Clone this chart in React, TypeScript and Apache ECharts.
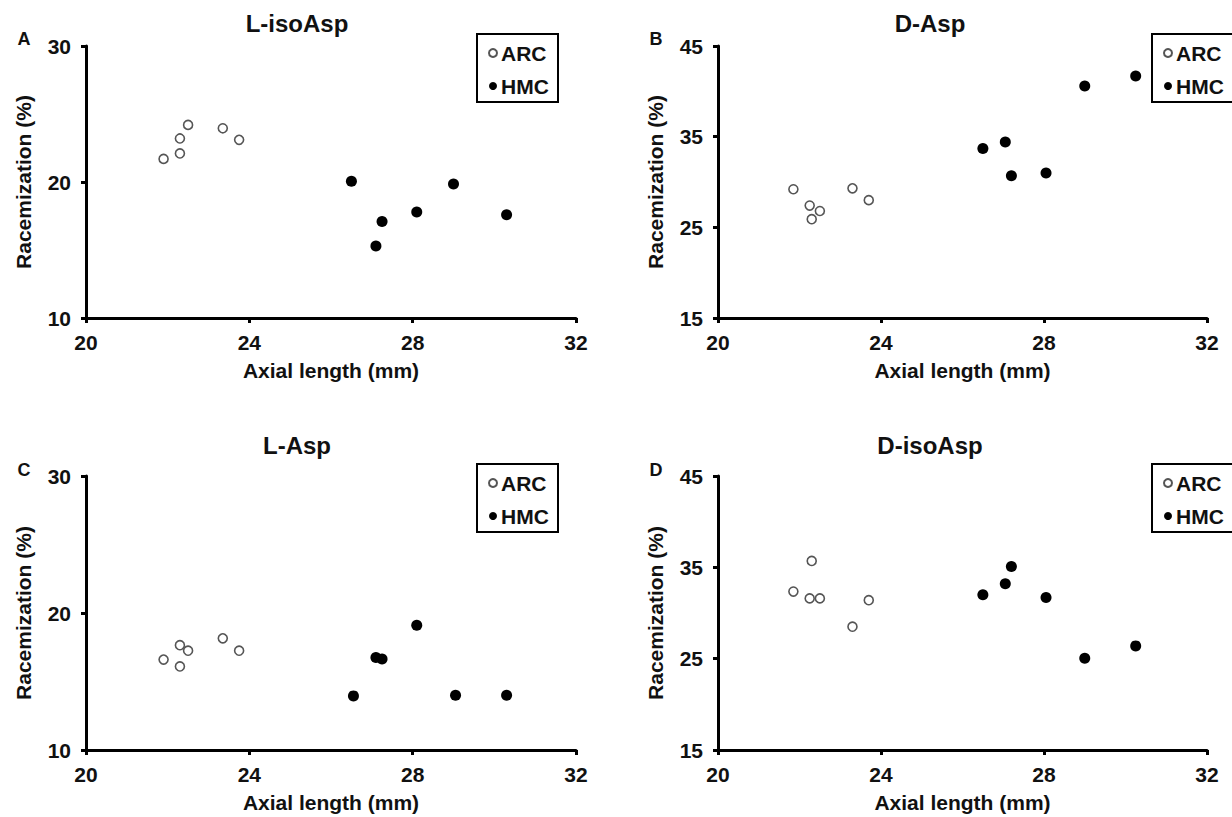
import React, { useEffect, useRef } from "react";
import * as echarts from "echarts";

const panelTitles = ["L-isoAsp", "D-Asp", "L-Asp", "D-isoAsp"];
const panelLetters = ["A", "B", "C", "D"];
const groupNames = ["ARC", "HMC"];

const lIsoAspArc = [[21.9, 21.7], [22.3, 22.1], [22.3, 23.2], [22.5, 24.2], [23.35, 23.95], [23.75, 23.1]];
const lIsoAspHmc = [[26.5, 20.05], [27.1, 15.3], [27.25, 17.1], [28.1, 17.8], [29.0, 19.85], [30.3, 17.6]];
const dAspArc = [[21.85, 29.2], [22.25, 27.4], [22.3, 25.9], [22.5, 26.8], [23.3, 29.3], [23.7, 28.0]];
const dAspHmc = [[26.5, 33.7], [27.05, 34.4], [27.2, 30.7], [28.05, 31.0], [29.0, 40.6], [30.25, 41.7]];
const lAspArc = [[21.9, 16.6], [22.3, 17.65], [22.3, 16.1], [22.5, 17.25], [23.35, 18.15], [23.75, 17.25]];
const lAspHmc = [[26.55, 13.95], [27.1, 16.75], [27.25, 16.65], [28.1, 19.1], [29.05, 14.0], [30.3, 14.0]];
const dIsoAspArc = [[21.85, 32.35], [22.25, 31.6], [22.3, 35.7], [22.5, 31.6], [23.3, 28.5], [23.7, 31.4]];
const dIsoAspHmc = [[26.5, 32.0], [27.05, 33.2], [27.2, 35.1], [28.05, 31.7], [29.0, 25.05], [30.25, 26.4]];

const xRange = { min: 20, max: 32, interval: 4 };
const yRanges = [
  { min: 10, max: 30, interval: 10 },
  { min: 15, max: 45, interval: 10 },
  { min: 10, max: 30, interval: 10 },
  { min: 15, max: 45, interval: 10 },
];

const arcData = [lIsoAspArc, dAspArc, lAspArc, dIsoAspArc];
const hmcData = [lIsoAspHmc, dAspHmc, lAspHmc, dIsoAspHmc];

const FONT = "Liberation Sans, Arial, sans-serif";

export default function App() {
  const ref = useRef<HTMLDivElement>(null);
  useEffect(() => {
    document.body.style.margin = "0";
    const chart = echarts.init(ref.current!, null, { renderer: "svg" });
    const grids = [
      { left: 86, top: 46, width: 490, height: 272 },
      { left: 718, top: 46, width: 489, height: 272 },
      { left: 86, top: 476, width: 490, height: 274 },
      { left: 718, top: 476, width: 489, height: 274 },
    ];
    const titlePos = [
      [297, 23], [930, 23], [297, 445], [930, 445],
    ];
    const letterPos = [
      [24, 39], [656, 39], [24, 470], [656, 470],
    ];
    const legendBoxes = [
      [476, 33, 83], [1151, 33, 95], [476, 463, 83], [1151, 463, 95],
    ];
    const axisLine = { show: true, lineStyle: { color: "#000", width: 3 } };
    const axisTick = { show: true, length: 5, lineStyle: { color: "#000", width: 3 } };
    const labelStyle = { color: "#111", fontWeight: "bold" as const, fontSize: 21, fontFamily: FONT };
    const nameStyle = { color: "#111", fontWeight: "bold" as const, fontSize: 21, fontFamily: FONT };

    const xAxis = grids.map((_, i) => ({
      type: "value",
      gridIndex: i,
      min: xRange.min,
      max: xRange.max,
      interval: xRange.interval,
      name: "Axial length (mm)",
      nameLocation: "middle",
      nameGap: 42,
      nameTextStyle: nameStyle,
      axisLine,
      axisTick,
      axisLabel: { ...labelStyle, margin: 14 },
      splitLine: { show: false },
    }));
    const yAxis = grids.map((_, i) => ({
      type: "value",
      gridIndex: i,
      min: yRanges[i].min,
      max: yRanges[i].max,
      interval: yRanges[i].interval,
      name: "Racemization (%)",
      nameLocation: "middle",
      nameGap: 52,
      nameTextStyle: nameStyle,
      axisLine,
      axisTick,
      axisLabel: { ...labelStyle, margin: 15 },
      splitLine: { show: false },
    }));
    const series: any[] = [];
    grids.forEach((_, i) => {
      series.push({
        type: "scatter",
        name: groupNames[0],
        xAxisIndex: i,
        yAxisIndex: i,
        data: arcData[i],
        symbol: "circle",
        symbolSize: 9,
        itemStyle: { color: "#fff", borderColor: "#555", borderWidth: 1.6, opacity: 1 },
        z: 3,
      });
      series.push({
        type: "scatter",
        name: groupNames[1],
        xAxisIndex: i,
        yAxisIndex: i,
        data: hmcData[i],
        symbol: "circle",
        symbolSize: 11,
        itemStyle: { color: "#000", opacity: 1 },
        z: 3,
      });
    });
    const legend = legendBoxes.map((b) => ({
      data: groupNames,
      left: b[0],
      top: b[1],
      orient: "vertical",
      selectedMode: false,
      icon: "circle",
      itemWidth: 8,
      itemHeight: 8,
      itemGap: 11,
      padding: [9, 0, 7, 12],
      borderWidth: 0,
      textStyle: { color: "#111", fontWeight: "bold", fontSize: 21, lineHeight: 22, fontFamily: FONT, padding: [0, 0, 0, -1] },
    }));
    const graphic: any[] = [];
    legendBoxes.forEach((b) => {
      graphic.push({
        type: "rect",
        shape: { x: b[0] + 1, y: b[1] + 1, width: b[2] - 2, height: 68 },
        style: { fill: "none", stroke: "#000", lineWidth: 2 },
        z: 10,
      });
    });
    titlePos.forEach((p, i) => {
      graphic.push({
        type: "text",
        x: p[0],
        y: p[1],
        style: {
          text: panelTitles[i],
          fill: "#111",
          font: `bold 24px ${FONT}`,
          textAlign: "center",
          textVerticalAlign: "middle",
        },
      });
    });
    letterPos.forEach((p, i) => {
      graphic.push({
        type: "text",
        x: p[0],
        y: p[1],
        style: {
          text: panelLetters[i],
          fill: "#111",
          font: `bold 18px ${FONT}`,
          textAlign: "center",
          textVerticalAlign: "middle",
        },
      });
    });
    chart.setOption({
      animation: false,
      backgroundColor: "#fff",
      grid: grids,
      xAxis,
      yAxis,
      series,
      legend,
      graphic,
    });
    return () => chart.dispose();
  }, []);
  return <div ref={ref} style={{ width: 1232, height: 817 }} />;
}
